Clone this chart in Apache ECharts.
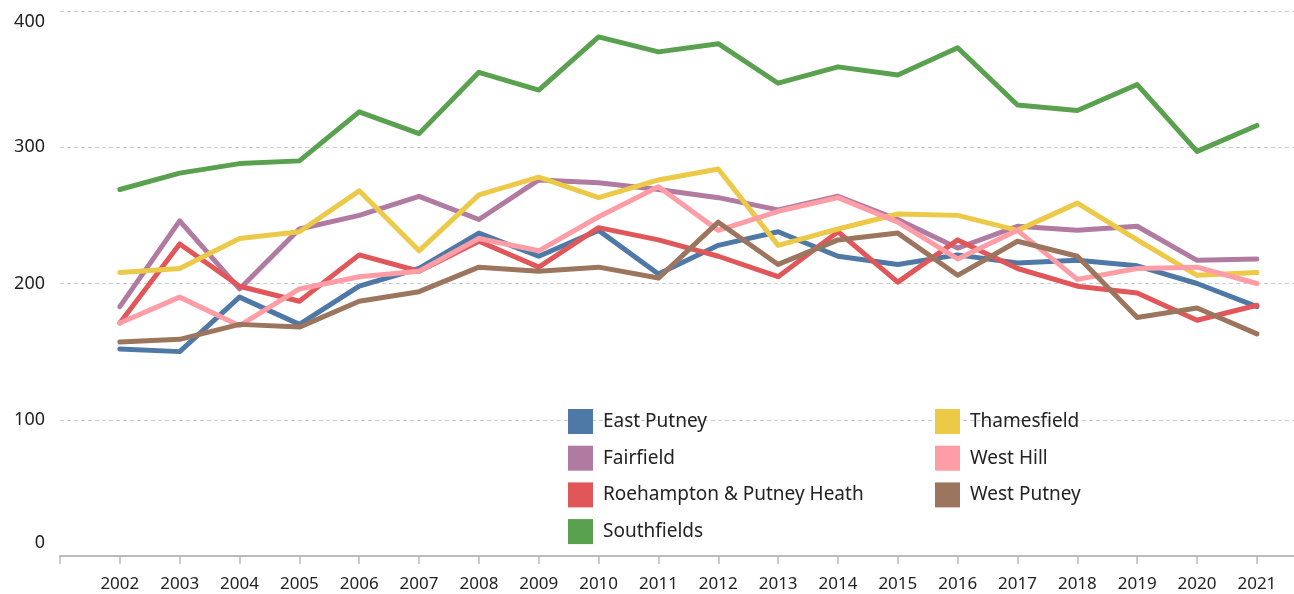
<!DOCTYPE html>
<html>
<head>
<meta charset="utf-8">
<script src="https://cdn.jsdelivr.net/npm/echarts@6/dist/echarts.min.js"></script>
<style>
  html, body { margin: 0; padding: 0; background: #fff; }
  #chart { width: 1294px; height: 594px; }
</style>
</head>
<body>
<div id="chart"></div>
<script>
// years on the x axis
var years = [2002, 2003, 2004, 2005, 2006, 2007, 2008, 2009, 2010, 2011,
             2012, 2013, 2014, 2015, 2016, 2017, 2018, 2019, 2020, 2021];

var wards = ['East Putney', 'Fairfield', 'Roehampton & Putney Heath', 'Southfields',
             'Thamesfield', 'West Hill', 'West Putney'];

var eastPutney  = [152, 150, 190, 170, 198, 211, 237, 220, 239, 207, 228, 238, 220, 214, 221, 215, 217, 213, 200, 183];
var fairfield   = [183, 246, 196, 240, 250, 264, 247, 276, 274, 269, 263, 254, 264, 247, 226, 242, 239, 242, 217, 218];
var roehampton  = [171, 229, 198, 187, 221, 209, 231, 212, 241, 232, 220, 205, 238, 201, 232, 211, 198, 193, 173, 184];
var southfields = [269, 281, 288, 290, 326, 310, 355, 342, 381, 370, 376, 347, 359, 353, 373, 331, 327, 346, 297, 316];
var thamesfield = [208, 211, 233, 238, 268, 224, 265, 278, 263, 276, 284, 228, 240, 251, 250, 239, 259, 232, 206, 208];
var westHill    = [171, 190, 169, 196, 205, 209, 233, 224, 249, 271, 239, 253, 263, 245, 218, 239, 203, 211, 212, 200];
var westPutney  = [157, 159, 170, 168, 187, 194, 212, 209, 212, 204, 245, 214, 232, 237, 206, 231, 220, 175, 182, 163];

var yTicks = [0, 100, 200, 300, 400];

var colors = ['#4e79a7', '#b07aa1', '#e15759', '#59a14f', '#edc948', '#ff9da7', '#9c755f'];
var values = [eastPutney, fairfield, roehampton, southfields, thamesfield, westHill, westPutney];

var chart = echarts.init(document.getElementById('chart'));

var series = [];
for (var i = 0; i < wards.length; i++) {
    series.push({
        name: wards[i],
        type: 'line',
        symbol: 'none',
        lineStyle: { width: 5, cap: 'round', join: 'round' },
        data: years.map(function (y, k) { return [y, values[i][k]]; })
    });
}

var legendBase = {
    orient: 'vertical',
    top: 409,
    padding: 0,
    icon: 'rect',
    itemWidth: 25,
    itemHeight: 25,
    itemGap: 11.7,
    textStyle: { fontFamily: 'Noto Sans', fontSize: 19, color: '#222', padding: [0, 0, 0, 5] }
};

var option = {
    animation: false,
    color: colors,
    textStyle: { fontFamily: 'Noto Sans' },
    grid: { left: 60, right: 0, top: 11, bottom: 38 },
    legend: [
        Object.assign({ left: 568, data: wards.slice(0, 4) }, legendBase),
        Object.assign({ left: 935, data: wards.slice(4) }, legendBase)
    ],
    xAxis: {
        type: 'value',
        min: 2001,
        max: 2021.62,
        interval: 1,
        axisLine: { lineStyle: { color: '#bbb', width: 2 } },
        axisTick: {
            length: 8,
            lineStyle: { color: '#bbb', width: 1.5 },
            customValues: [2001].concat(years)
        },
        splitLine: { show: false },
        axisLabel: {
            customValues: years,
            margin: 20,
            fontSize: 17,
            color: '#222',
            formatter: function (v) { return String(v); }
        }
    },
    yAxis: {
        type: 'value',
        min: yTicks[0],
        max: yTicks[yTicks.length - 1],
        interval: 100,
        axisLine: { show: false },
        axisTick: { show: false },
        splitLine: { lineStyle: { color: '#ccc', type: [4, 3], width: 1 } },
        axisLabel: {
            margin: 15,
            fontSize: 18,
            color: '#222',
            formatter: function (v) {
                if (v === 400) return '{t|' + v + '}';
                if (v === 0) return '{b|' + v + '}';
                return String(v);
            },
            rich: {
                t: { fontSize: 18, color: '#222', padding: [22, 0, 0, 0] },
                b: { fontSize: 18, color: '#222', padding: [0, 0, 26, 0] }
            }
        }
    },
    series: series
};

chart.setOption(option);
</script>
</body>
</html>
